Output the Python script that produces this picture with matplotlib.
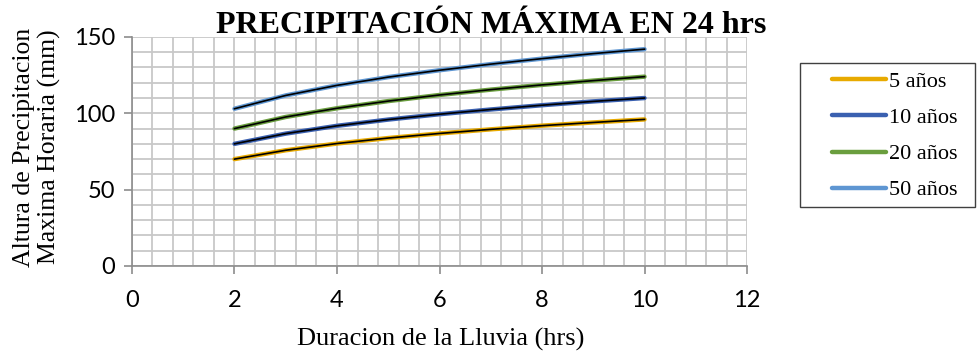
import matplotlib.pyplot as plt
from matplotlib.patches import Rectangle
from matplotlib.ticker import MultipleLocator

# Duracion de la lluvia (hrs) and max hourly precipitation (mm) per return period
duracion = [2, 3, 4, 5, 6, 7, 8, 9, 10]
p_5 = [70.0, 75.8, 80.2, 83.8, 86.8, 89.5, 91.9, 94.0, 96.0]
p_10 = [80.0, 86.7, 91.8, 95.9, 99.4, 102.5, 105.3, 107.8, 110.0]
p_20 = [90.0, 97.6, 103.3, 108.0, 112.0, 115.5, 118.6, 121.4, 124.0]
p_50 = [103.0, 111.7, 118.3, 123.7, 128.2, 132.2, 135.8, 139.1, 142.0]

series = [("5 años", p_5, "#E8AA00"),
          ("10 años", p_10, "#3A60B0"),
          ("20 años", p_20, "#6A9E3E"),
          ("50 años", p_50, "#5E96D2")]

serif = "Liberation Serif"
sans = "Lato"

fig = plt.figure(figsize=(9.77, 3.54), dpi=100)
ax = fig.add_axes([0.1351, 0.2486, 0.6295, 0.647])

handles = []
for name, vals, col in series:
    h, = ax.plot(duracion, vals, color=col, lw=3.2, solid_capstyle="round",
                 solid_joinstyle="round", label=name, zorder=3)
    # power trendline drawn over the series
    ax.plot(duracion, vals, color="black", lw=1.2, solid_joinstyle="round", zorder=4)
    handles.append(h)

ax.set_xlim(0, 12)
ax.set_ylim(0, 150)
ax.xaxis.set_major_locator(MultipleLocator(2))
ax.xaxis.set_minor_locator(MultipleLocator(0.4))
ax.yaxis.set_major_locator(MultipleLocator(50))
ax.yaxis.set_minor_locator(MultipleLocator(10))
ax.grid(which="both", color="#C8C8C8", lw=1.3, zorder=0)
ax.set_axisbelow(True)

for s in ["top", "right"]:
    ax.spines[s].set_visible(False)
for s in ["left", "bottom"]:
    ax.spines[s].set_color("#8C8C8C")
    ax.spines[s].set_linewidth(1.2)
ax.tick_params(which="major", length=6, width=1.2, color="#8C8C8C", labelsize=17)
ax.tick_params(axis="y", pad=6)
ax.tick_params(axis="x", pad=11)
ax.tick_params(which="minor", length=0)
for lab in ax.get_xticklabels() + ax.get_yticklabels():
    lab.set_fontfamily(sans)

fig.text(0.451, 0.040, "Duracion de la Lluvia (hrs)", ha="center", va="center",
         fontfamily=serif, fontsize=19)
fig.text(0.038, 0.585, "Altura de Precipitacion\nMaxima Horaria (mm)", ha="center", va="center",
         rotation=90, multialignment="center", fontfamily=serif, fontsize=18.5)

fig.text(0.5026, 0.929, "PRECIPITACIÓN MÁXIMA EN 24 hrs", ha="center", va="center",
         fontfamily=serif, fontweight="bold", fontsize=23)

# legend box
fig.patches.append(Rectangle((0.8188, 0.4153), 0.179, 0.4068, transform=fig.transFigure,
                             facecolor="white", edgecolor="#404040", lw=1.0))
leg = fig.legend(handles=handles, loc="center left", bbox_to_anchor=(0.8516, 0.6158),
                 prop={"family": serif, "size": 16}, frameon=False,
                 borderpad=0, labelspacing=0.7, handlelength=2.45, handletextpad=0.1,
                 borderaxespad=0)
for line in leg.get_lines():
    line.set_linewidth(3.2)

fig.savefig("out.png", dpi=100)
